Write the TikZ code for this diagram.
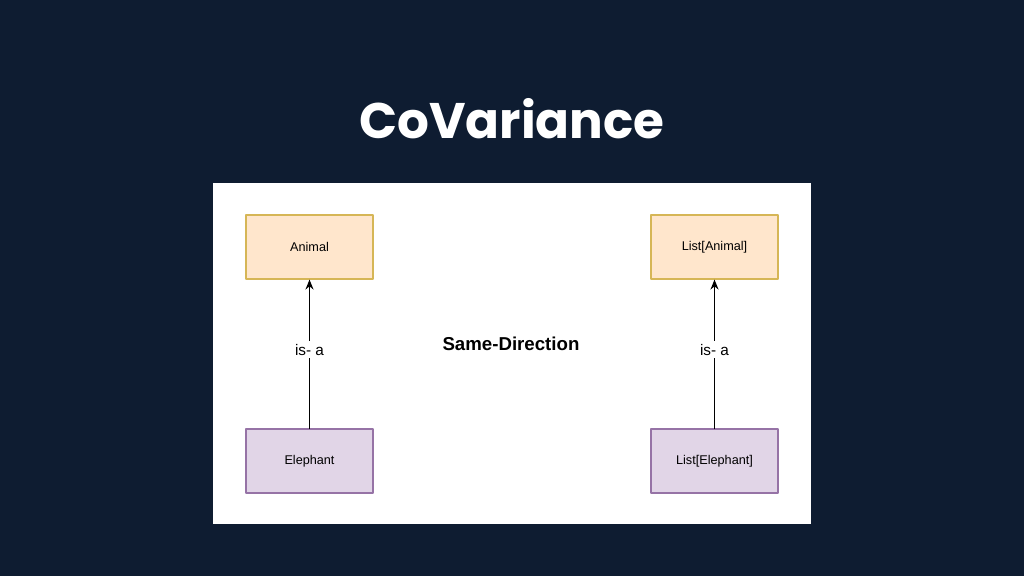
\documentclass[tikz,border=0pt]{standalone}
\usepackage{fontspec}
\setmainfont{Liberation Sans}
\newfontfamily\titlefont{Poppins}
\usetikzlibrary{arrows.meta}
\definecolor{slidebg}{HTML}{0E1C31}
\definecolor{peachfill}{HTML}{FFE6CC}
\definecolor{peachline}{HTML}{D6B656}
\definecolor{lilacfill}{HTML}{E1D5E7}
\definecolor{lilacline}{HTML}{9673A6}

\begin{document}
\begin{tikzpicture}[x=0.75pt, y=-0.75pt, line cap=round, line join=round]

% ---------------- styles ----------------
\tikzset{
  classbox/.style ={draw, line width=0.8pt, minimum width=95.25pt, minimum height=48pt,
                    inner sep=0pt, font=\fontsize{9.5}{11}\selectfont},
  superbox/.style ={classbox, fill=peachfill, draw=peachline},
  subbox/.style   ={classbox, fill=lilacfill, draw=lilacline},
  isa/.style      ={-{Stealth[length=7.5pt, width=6pt]}, line width=1.1pt},
  isalabel/.style ={fill=white, inner sep=2pt, pos=0.53, font=\fontsize{11.5}{13}\selectfont}
}

% ---------------- parameters ----------------
\def\xL{309.5}   % left column
\def\xR{714.5}   % right column
\def\yTop{247}   % supertype row
\def\yBot{461}   % subtype row

% ---------------- slide ----------------
\fill[slidebg] (0,0) rectangle (1024,576);
\useasboundingbox (0,0) rectangle (1024,576);
\node[anchor=base, text=white, font=\titlefont\bfseries\fontsize{37.5}{42}\selectfont] (title) at (512,138) {CoVariance};
\fill[white] (213,183) rectangle (811,524);

% ---------------- boxes ----------------
\node[superbox] (animal)       at (\xL,\yTop) {Animal};
\node[subbox]   (elephant)     at (\xL,\yBot) {Elephant};
\node[superbox] (listAnimal)   at (\xR,\yTop) {List[Animal]};
\node[subbox]   (listElephant) at (\xR,\yBot) {List[Elephant]};

% ---------------- relations ----------------
\draw[isa] (elephant) -- node[isalabel] (isaLeft) {is- a} (animal);
\draw[isa] (listElephant) -- node[isalabel] (isaRight) {is- a} (listAnimal);

\node[font=\bfseries\fontsize{14}{16}\selectfont] (direction) at (511,344) {Same-Direction};

\end{tikzpicture}
\end{document}
